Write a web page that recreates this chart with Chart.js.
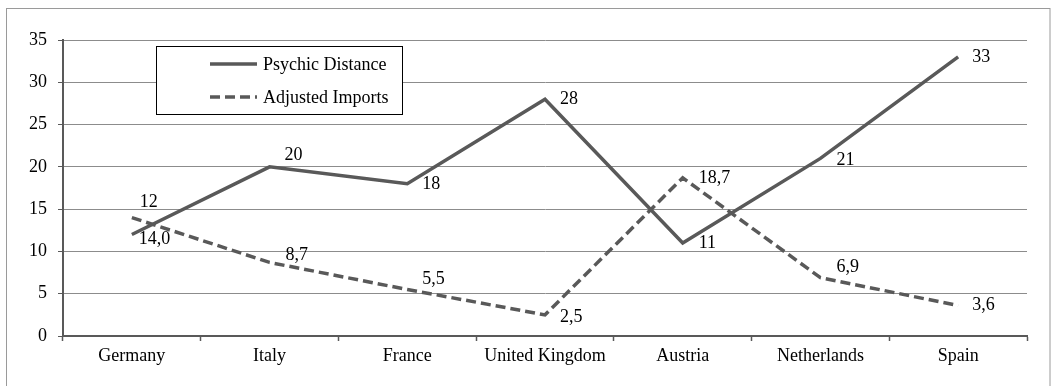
<!DOCTYPE html>
<html>
<head>
<meta charset="utf-8">
<title>Psychic Distance and Adjusted Imports</title>
<script src="https://cdn.jsdelivr.net/npm/chart.js@4/dist/chart.umd.min.js"></script>
<style>
  html, body { margin: 0; padding: 0; background: #ffffff; }
  #wrap { width: 1051px; height: 386px; position: relative; }
</style>
</head>
<body>
<div id="wrap"><canvas id="chart" width="1051" height="386"></canvas></div>
<script>
// Countries on the category axis
const countries = ['Germany', 'Italy', 'France', 'United Kingdom', 'Austria', 'Netherlands', 'Spain'];
// Series values
const psychicDistance = [12, 20, 18, 28, 11, 21, 33];
const adjustedImports = [14.0, 8.7, 5.5, 2.5, 18.7, 6.9, 3.6];
// Value axis ticks
const yTicks = [0, 5, 10, 15, 20, 25, 30, 35];

const INK = '#595959';
const FONT = "'Liberation Serif', 'Times New Roman', serif";

// Value labels: placed right of each point, with a few hand nudges to keep them clear of the lines
const valueLabels = {
  id: 'valueLabels',
  afterDatasetsDraw(chart, args, opts) {
    const ctx = chart.ctx;
    ctx.save();
    ctx.font = '18px ' + FONT;
    ctx.fillStyle = '#000';
    ctx.textAlign = 'left';
    ctx.textBaseline = 'middle';
    chart.data.datasets.forEach((ds, di) => {
      const meta = chart.getDatasetMeta(di);
      const nudge = opts.nudges[di] || [];
      meta.data.forEach((pt, i) => {
        const n = nudge[i] || [15, 0];
        const txt = ds.labelFormat(ds.data[i]);
        ctx.fillText(txt, pt.x + n[0], pt.y + n[1]);
      });
    });
    ctx.restore();
  }
};

// Boxed legend floating inside the plot, plus the outer frame
const boxLegend = {
  id: 'boxLegend',
  beforeDraw(chart) {
    const ctx = chart.ctx;
    ctx.save();
    ctx.fillStyle = '#ffffff';
    ctx.fillRect(0, 0, chart.width, chart.height);
    ctx.strokeStyle = '#9a9a9a';
    ctx.lineWidth = 1;
    ctx.strokeRect(6.5, 8.5, 1043.5, 390);
    ctx.restore();
  },
  afterDatasetsDraw(chart, args, opts) {
    const ctx = chart.ctx;
    const b = opts.box;
    ctx.save();
    ctx.fillStyle = '#ffffff';
    ctx.fillRect(b.x, b.y, b.w, b.h);
    ctx.strokeStyle = '#000000';
    ctx.lineWidth = 1;
    ctx.strokeRect(b.x + 0.5, b.y + 0.5, b.w, b.h);
    ctx.font = '18px ' + FONT;
    ctx.textAlign = 'left';
    ctx.textBaseline = 'middle';
    chart.data.datasets.forEach((ds, i) => {
      const y = b.y + opts.rowY[i];
      ctx.strokeStyle = ds.borderColor;
      ctx.lineWidth = ds.borderWidth;
      ctx.lineCap = 'butt';
      ctx.setLineDash(ds.borderDash || []);
      ctx.beginPath();
      ctx.moveTo(b.x + opts.sampleX, y);
      ctx.lineTo(b.x + opts.sampleX + opts.sampleW, y);
      ctx.stroke();
      ctx.setLineDash([]);
      ctx.fillStyle = '#000';
      ctx.fillText(ds.label, b.x + opts.sampleX + opts.sampleW + 6, y + 1);
    });
    ctx.restore();
  }
};

new Chart(document.getElementById('chart'), {
  type: 'line',
  data: {
    labels: countries,
    datasets: [
      {
        label: 'Psychic Distance',
        data: psychicDistance,
        borderColor: INK,
        borderWidth: 3.5,
        pointRadius: 0,
        tension: 0,
        fill: false,
        labelFormat: v => String(v)
      },
      {
        label: 'Adjusted Imports',
        data: adjustedImports,
        borderColor: INK,
        borderWidth: 3.5,
        borderDash: [10, 5],
        borderCapStyle: 'butt',
        pointRadius: 0,
        tension: 0,
        fill: false,
        labelFormat: v => v.toFixed(1).replace('.', ',')
      }
    ]
  },
  options: {
    responsive: false,
    animation: false,
    devicePixelRatio: 1,
    layout: { padding: { left: 0, right: 24, top: 40, bottom: 0 } },
    font: { family: FONT, size: 18 },
    plugins: {
      legend: { display: false },
      tooltip: { enabled: false },
      valueLabels: {
        nudges: [
          [[8, -32], [15, -12], [15, 0], [15, 0], [16, 0], [16, 2], [14, 0]],
          [[7, 22], [16, -7], [15, -10], [15, 2], [16, 0], [16, -10], [14, 0]]
        ]
      },
      boxLegend: {
        box: { x: 156, y: 46, w: 246, h: 68 },
        rowY: [18, 51],
        sampleX: 54,
        sampleW: 47
      }
    },
    scales: {
      x: {
        type: 'category',
        offset: true,
        grid: {
          offset: true,
          drawOnChartArea: false,
          drawTicks: true,
          tickLength: 5,
          tickColor: INK,
          tickWidth: 1.5
        },
        border: { color: INK, width: 2 },
        ticks: {
          color: '#000',
          font: { family: FONT, size: 18 },
          padding: 4,
          maxRotation: 0,
          autoSkip: false
        },
        afterFit(scale) { scale.height = 50; }
      },
      y: {
        min: 0,
        max: 35,
        afterBuildTicks(scale) { scale.ticks = yTicks.map(v => ({ value: v })); },
        grid: {
          color: '#8c8c8c',
          lineWidth: 1,
          drawTicks: true,
          tickLength: 5,
          tickColor: INK
        },
        border: { color: INK, width: 2 },
        ticks: {
          color: '#000',
          font: { family: FONT, size: 18 },
          padding: 11
        },
        afterFit(scale) { scale.width = 63; }
      }
    }
  },
  plugins: [valueLabels, boxLegend]
});
</script>
</body>
</html>
